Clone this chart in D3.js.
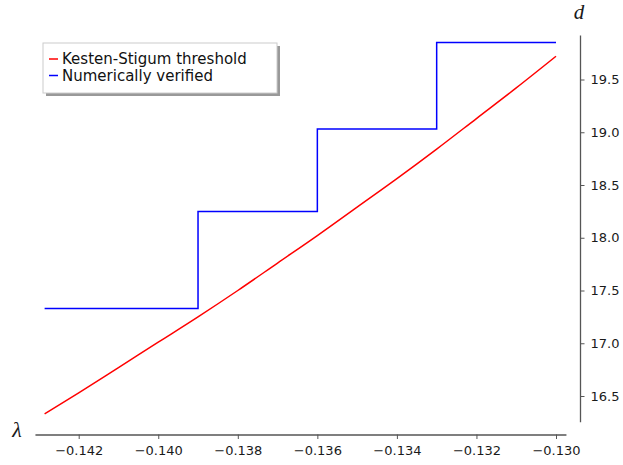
<!doctype html>
<html>
  <head>
    <script src="https://cdnjs.cloudflare.com/ajax/libs/d3/7.8.5/d3.min.js" type="text/JavaScript"></script>
    <style>
      body { margin: 0; background: #fff; }
      svg { display: block; }
    </style>
  </head>
  <body>
    <svg id="chart" width="623" height="465"></svg>

    <script>
        // lambda values and the Kesten-Stigum curve
        var ksLambda = [-0.142857, -0.142, -0.141, -0.140, -0.139, -0.138, -0.137, -0.136,
                        -0.135, -0.134, -0.133, -0.132, -0.131, -0.130];
        var ksD = [16.33, 16.53, 16.77, 17.01, 17.25, 17.50, 17.76, 18.02,
                   18.29, 18.56, 18.84, 19.13, 19.42, 19.72];

        // numerically verified steps (value holds until next lambda)
        var verLambda = [-0.142857, -0.139, -0.136, -0.133, -0.130];
        var verD = [17.33, 18.25, 19.03, 19.85, 19.85];

        var xTicks = [-0.142, -0.140, -0.138, -0.136, -0.134, -0.132, -0.130];
        var yTicks = [16.5, 17.0, 17.5, 18.0, 18.5, 19.0, 19.5];

        var legendNames = ["Kesten-Stigum threshold", "Numerically verified"];
        var legendColors = ["#ff0000", "#0000ff"];

        var svg = d3.select("#chart");

        var x = d3.scaleLinear().domain([-0.142, -0.130]).range([78.7, 556]);
        var y = d3.scaleLinear().domain([16.5, 19.5]).range([396, 79.5]);

        var axisColor = "#555";
        var fmtX = d3.format(".3f");

        // x axis, a bit wider than the data
        var xa = x.copy().domain([-0.1431, -0.12975]);
        xa.range([x(-0.1431), x(-0.12975)]);
        var xMinor = d3.range(-0.143, -0.12999, 0.0005);

        var gx = svg.append("g").attr("transform", "translate(0,434.5)");
        gx.call(d3.axisBottom(xa).tickValues(xMinor).tickSize(2.5).tickSizeOuter(0).tickFormat(""));
        gx.call(d3.axisBottom(xa).tickValues(xTicks).tickSize(4.5).tickPadding(7).tickSizeOuter(0).tickFormat(fmtX));

        // y axis on the right side
        var ya = y.copy().domain([16.256, 19.922]);
        ya.range([y(16.256), y(19.922)]);
        var yMinor = d3.range(16.3, 19.95, 0.1);

        var gy = svg.append("g").attr("transform", "translate(580,0)");
        gy.call(d3.axisRight(ya).tickValues(yMinor).tickSize(2.5).tickSizeOuter(0).tickFormat(""));
        gy.call(d3.axisRight(ya).tickValues(yTicks).tickSize(4.5).tickPadding(6).tickSizeOuter(0).tickFormat(d3.format(".1f")));

        svg.selectAll(".domain").attr("stroke", axisColor).attr("stroke-width", 1.3);
        svg.selectAll(".tick line").attr("stroke", axisColor).attr("stroke-width", 1);
        svg.selectAll(".tick text")
            .attr("fill", "#1a1a1a")
            .style("font-family", "'DejaVu Sans', sans-serif")
            .style("font-size", "13px");

        // axis labels
        svg.append("text")
            .attr("x", 17).attr("y", 437)
            .attr("text-anchor", "middle")
            .style("font-family", "'Liberation Serif', serif")
            .style("font-style", "italic")
            .style("font-size", "22px")
            .attr("fill", "#1a1a1a")
            .text("λ");

        svg.append("text")
            .attr("x", 579).attr("y", 18.5)
            .attr("text-anchor", "middle")
            .style("font-family", "'Liberation Serif', serif")
            .style("font-style", "italic")
            .style("font-size", "21px")
            .attr("fill", "#1a1a1a")
            .text("d");

        // curves
        var ksLine = d3.line()
            .x(function(d, i) { return x(ksLambda[i]); })
            .y(function(d) { return y(d); })
            .curve(d3.curveMonotoneX);

        svg.append("path")
            .attr("d", ksLine(ksD))
            .attr("fill", "none")
            .attr("stroke", legendColors[0])
            .attr("stroke-width", 1.5);

        var verLine = d3.line()
            .x(function(d, i) { return x(verLambda[i]); })
            .y(function(d) { return y(d); })
            .curve(d3.curveStepAfter);

        svg.append("path")
            .attr("d", verLine(verD))
            .attr("fill", "none")
            .attr("stroke", legendColors[1])
            .attr("stroke-width", 1.5);

        // legend box with shadow
        var lg = svg.append("g");
        lg.append("rect")
            .attr("x", 46).attr("y", 46).attr("width", 234).attr("height", 50)
            .attr("fill", "#999");
        lg.append("rect")
            .attr("x", 43).attr("y", 43).attr("width", 234).attr("height", 50)
            .attr("fill", "#fff")
            .attr("stroke", "#ccc")
            .attr("stroke-width", 1);

        var items = lg.selectAll("g.item")
            .data(legendNames)
            .enter()
            .append("g")
            .attr("class", "item")
            .attr("transform", function(d, i) { return "translate(0," + (59 + i * 16.5) + ")"; });

        items.append("line")
            .attr("x1", 49).attr("x2", 58)
            .attr("y1", 0).attr("y2", 0)
            .attr("stroke", function(d, i) { return legendColors[i]; })
            .attr("stroke-width", 1.5);

        items.append("text")
            .attr("x", 62).attr("y", 0)
            .attr("dy", "0.35em")
            .style("font-family", "'DejaVu Sans', sans-serif")
            .style("font-size", "15px")
            .attr("fill", "#111")
            .text(function(d) { return d; });
    </script>
  </body>
</html>
